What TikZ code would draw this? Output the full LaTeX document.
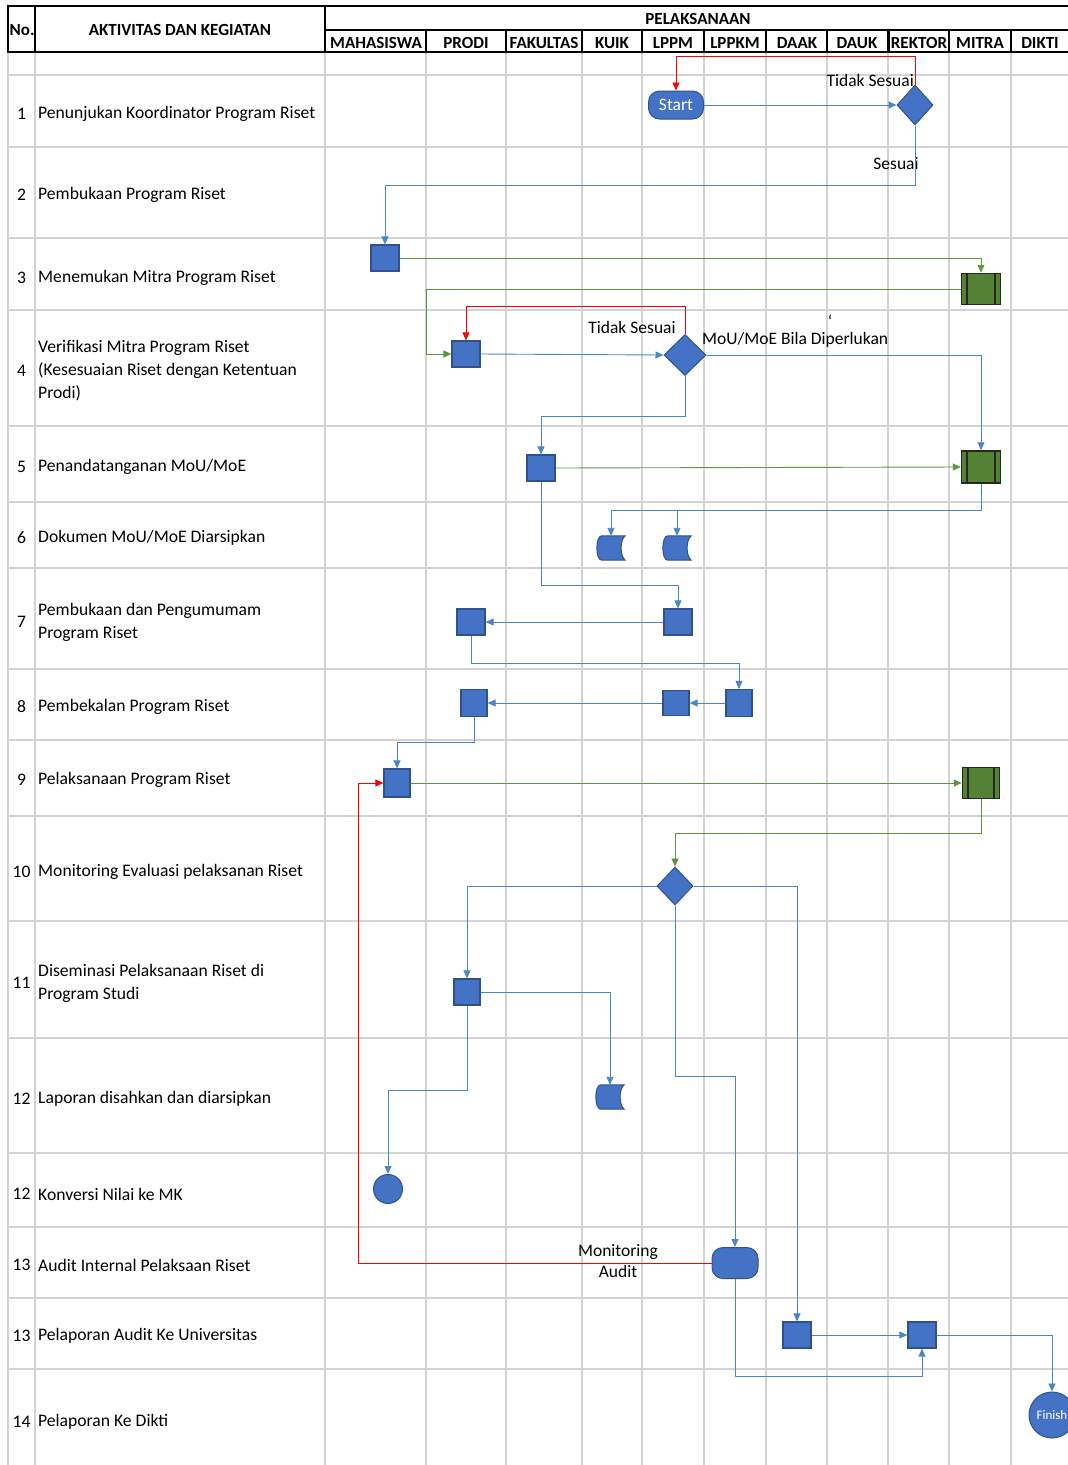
\documentclass[tikz,border=0pt]{standalone}
\usepackage{fontspec}
\setmainfont{Carlito}
\usetikzlibrary{arrows.meta,shapes.geometric,calc}
\definecolor{boxblue}{HTML}{4472C4}
\definecolor{boxedge}{HTML}{2F528F}
\definecolor{lnblue}{HTML}{4A86C8}
\definecolor{lngreen}{HTML}{5E9640}
\definecolor{mgreen}{HTML}{548235}
\definecolor{gridgrey}{HTML}{D3D3D3}
\begin{document}
\begin{tikzpicture}[x=1pt,y=-1pt,
  gridthin/.style={draw=gridgrey,line width=1.6pt},
  gridthick/.style={draw=gridgrey,line width=2.8pt},
  hdr/.style={draw=black,line width=2.2pt},
  hdrtxt/.style={font=\fontsize{17}{20}\selectfont\bfseries,inner sep=0},
  rowtxt/.style={anchor=west,align=left,inner sep=0,font=\fontsize{17.6}{23}\selectfont},
  numtxt/.style={inner sep=0,font=\fontsize{17.6}{23}\selectfont},
  lbl/.style={inner sep=0,align=center,font=\fontsize{17.5}{21}\selectfont},
  box/.style={rectangle,fill=boxblue,draw=boxedge,line width=1.2pt,inner sep=0,minimum width=28pt,minimum height=26pt},
  dec/.style={diamond,fill=boxblue,draw=boxedge,line width=1pt,inner sep=0,minimum width=36pt,minimum height=40pt},
  mitrabox/.style={rectangle,fill=mgreen,draw=black!85,line width=1.5pt,inner sep=0,minimum width=39pt,minimum height=31pt,
    path picture={
      \draw[black!85,line width=1.3pt] ([xshift=5.5pt]path picture bounding box.north west) -- ([xshift=5.5pt]path picture bounding box.south west);
      \draw[black!85,line width=1.3pt] ([xshift=-5.5pt]path picture bounding box.north east) -- ([xshift=-5.5pt]path picture bounding box.south east);}},
  term/.style={rectangle,rounded corners=11pt,fill=boxblue,draw=boxedge,line width=1pt,inner sep=0,text=white},
  endcirc/.style={circle,fill=boxblue,draw=boxedge,line width=1pt,inner sep=0,text=white},
  bl/.style={color=lnblue,line width=0.9pt,-{Triangle[length=8pt,width=7pt]}},
  gr/.style={color=lngreen,line width=0.9pt,-{Triangle[length=8pt,width=7pt]}},
  rd/.style={color=red,line width=0.9pt,-{Triangle[length=8pt,width=7pt]}}
]
\useasboundingbox (0,0) rectangle (1068,1465);
\fill[white] (0,0) rectangle (1068,1465);

% ---------- body grid ----------
\foreach \y in {147,238,502,740,816,921,1038,1153,1227,1369}
  \draw[gridthin] (8,\y) -- (1068,\y);
\foreach \y in {75,310,426,568,669,1298}
  \draw[gridthick] (8,\y) -- (1068,\y);
\foreach \x in {426,506,582,642,704,766,827,949,1011}
  \draw[gridthin] (\x,52) -- (\x,1465);
\foreach \x in {8,35,325,888}
  \draw[gridthick] (\x,52) -- (\x,1465);

% ---------- header ----------
\draw[hdr] (6.9,6) -- (1068,6);
\draw[hdr] (8,6) -- (8,52);
\draw[hdr] (35,6) -- (35,52);
\draw[hdr] (325,6) -- (325,52);
\draw[hdr,line width=2pt] (325,30) -- (1068,30);
\foreach \x in {426,506,582,642,704,766,827,949,1011}
  \draw[hdr,line width=2pt] (\x,30) -- (\x,52);
\draw[hdr,line width=3pt] (888,30) -- (888,52);
\draw[hdr] (6.9,52) -- (1068,52);

\node[hdrtxt,anchor=west] (hno) at (9.5,30) {No.};
\node[hdrtxt] (hakt) at (180,30) {AKTIVITAS DAN KEGIATAN};
\node[hdrtxt] (hpel) at (698,19) {PELAKSANAAN};
\node[hdrtxt] (hmhs) at (376,43) {MAHASISWA};
\node[hdrtxt] (hpro) at (466,43) {PRODI};
\node[hdrtxt] (hfak) at (544,43) {FAKULTAS};
\node[hdrtxt] (hkui) at (612,43) {KUIK};
\node[hdrtxt] (hlppm) at (673,43) {LPPM};
\node[hdrtxt] (hlppkm) at (735,43) {LPPKM};
\node[hdrtxt] (hdaak) at (797,43) {DAAK};
\node[hdrtxt] (hdauk) at (857,43) {DAUK};
\node[hdrtxt] (hrek) at (919,43) {REKTOR};
\node[hdrtxt] (hmit) at (980,43) {MITRA};
\node[hdrtxt] (hdik) at (1040,43) {DIKTI};

% ---------- row texts ----------
\node[numtxt] (n1) at (21.5,114) {1};
\node[rowtxt] (t1) at (38,114) {Penunjukan Koordinator Program Riset};
\node[numtxt] (n2) at (21.5,195) {2};
\node[rowtxt] (t2) at (38,195) {Pembukaan Program Riset};
\node[numtxt] (n3) at (21.5,278) {3};
\node[rowtxt] (t3) at (38,278) {Menemukan Mitra Program Riset};
\node[numtxt] (n4) at (21.5,371) {4};
\node[rowtxt] (t4) at (38,371) {Verifikasi Mitra Program Riset\\(Kesesuaian Riset dengan Ketentuan\\Prodi)};
\node[numtxt] (n5) at (21.5,467) {5};
\node[rowtxt] (t5) at (38,467) {Penandatanganan MoU/MoE};
\node[numtxt] (n6) at (21.5,538) {6};
\node[rowtxt] (t6) at (38,538) {Dokumen MoU/MoE Diarsipkan};
\node[numtxt] (n7) at (21.5,622) {7};
\node[rowtxt] (t7) at (38,622) {Pembukaan dan Pengumumam\\Program Riset};
\node[numtxt] (n8) at (21.5,707) {8};
\node[rowtxt] (t8) at (38,707) {Pembekalan Program Riset};
\node[numtxt] (n9) at (21.5,780) {9};
\node[rowtxt] (t9) at (38,780) {Pelaksanaan Program Riset};
\node[numtxt] (n10) at (21.5,872) {10};
\node[rowtxt] (t10) at (38,872) {Monitoring Evaluasi pelaksanan Riset};
\node[numtxt] (n11) at (21.5,983) {11};
\node[rowtxt] (t11) at (38,983) {Diseminasi Pelaksanaan Riset di\\Program Studi};
\node[numtxt] (n12) at (21.5,1099) {12};
\node[rowtxt] (t12) at (38,1099) {Laporan disahkan dan diarsipkan};
\node[numtxt] (n12b) at (21.5,1194) {12};
\node[rowtxt] (t12b) at (38,1194) {Konversi Nilai ke MK};
\node[numtxt] (n13) at (21.5,1265) {13};
\node[rowtxt] (t13) at (38,1265) {Audit Internal Pelaksaan Riset};
\node[numtxt] (n13b) at (21.5,1336) {13};
\node[rowtxt] (t13b) at (38,1336) {Pelaporan Audit Ke Universitas};
\node[numtxt] (n14) at (21.5,1422) {14};
\node[rowtxt] (t14) at (38,1422) {Pelaporan Ke Dikti};

% ---------- flow nodes ----------
\node[term,minimum width=55pt,minimum height=28pt,font=\fontsize{17.5}{20}\selectfont] (start) at (676,105) {Start};
\node[dec] (d1) at (915,105) {};
\node[box] (b3) at (385,258) {};
\node[mitrabox] (m3) at (981,289) {};
\node[box] (b4) at (466,354) {};
\node[dec,minimum width=42pt,minimum height=41pt] (d4) at (685,355) {};
\node[box] (b5) at (541,468) {};
\node[mitrabox,minimum height=32pt] (m5) at (981,467) {};
\newcommand{\storedata}[3]{%
  \node[inner sep=0,minimum width=28pt,minimum height=24pt] (#1) at (#2,#3) {};
  \filldraw[fill=boxblue,draw=boxedge,line width=1pt]
    ($(#1.north west)+(5,0)$) -- (#1.north east)
    .. controls ($(#1.north east)+(-5.5,4)$) and ($(#1.south east)+(-5.5,-4)$) .. (#1.south east)
    -- ($(#1.south west)+(5,0)$)
    .. controls ($(#1.south west)+(-1.6,0)$) and ($(#1.north west)+(-1.6,0)$) .. cycle;}
\storedata{c6a}{611}{548}
\storedata{c6b}{677}{548}
\node[box] (b7b) at (678,622) {};
\node[box] (b7a) at (471,622) {};
\node[box,minimum width=26pt,minimum height=27pt] (b8c) at (739,703) {};
\node[box,minimum width=26pt,minimum height=25pt] (b8b) at (676,703) {};
\node[box,minimum width=26pt,minimum height=27pt] (b8a) at (474,703) {};
\node[box,minimum width=26pt,minimum height=28pt] (b9) at (397,783) {};
\node[mitrabox,minimum width=37pt] (m9) at (981,783) {};
\node[dec,minimum height=38pt] (d10) at (675,886) {};
\node[box,minimum width=26pt] (b11) at (467,992) {};
\storedata{c12}{610}{1097}
\node[endcirc,minimum size=29pt] (e12) at (388,1189) {};
\node[term,minimum width=46pt,minimum height=31pt] (au) at (735,1263) {};
\node[box] (b13a) at (797,1335) {};
\node[box] (b13b) at (922,1335) {};
\node[endcirc,minimum size=46pt,font=\fontsize{13}{15}\selectfont] (fin) at (1052,1415) {Finish};

% ---------- labels ----------
\node[lbl,anchor=east] (ltidak1) at (914,80) {Tidak Sesuai};
\node[lbl] (lsesuai) at (896,164) {Sesuai};
\node[lbl] (ltidak2) at (632,327) {Tidak Sesuai};
\node[lbl,anchor=west] (lmou) at (702,340) {MoU/MoE Bila Diperlukan};
\node[lbl] (ltick) at (830,321) {`};
\node[lbl] (lmon) at (618,1261) {Monitoring\\Audit};

% ---------- connectors ----------
\draw[bl] (start.east) -- (d1.west);
\draw[rd] (d1.north) -- ++(0,-28) -| (start.north);
\draw[bl] (d1.south) -- (d1.south |- 0,185) -| (b3.north);
\draw[gr] (b3.east) -| (m3.north);
\draw[gr] (m3.west) -- (m3.west -| 426,0) |- (b4.west);
\draw[rd] (d4.north) -- (d4.north |- 0,306) -| (b4.north);
\draw[bl] (b4.east) -- (d4.west);
\draw[bl] (d4.east) -| (m5.north);
\draw[bl] (d4.south) -- (d4.south |- 0,416) -| (b5.north);
\draw[gr] (b5.east) -- (m5.west);
\draw[bl] (m5.south) -- (m5.south |- 0,510) -| (c6a.north);
\draw[bl] (m5.south |- 0,510) -| (c6b.north);
\draw[bl] (b5.south) -- (b5.south |- 0,585) -| (b7b.north);
\draw[bl] (b7b.west) -- (b7a.east);
\draw[bl] (b7a.south) -- (b7a.south |- 0,663) -| (b8c.north);
\draw[bl] (b8c.west) -- (b8b.east);
\draw[bl] (b8b.west) -- (b8a.east);
\draw[bl] (b8a.south) -- (b8a.south |- 0,742) -| (b9.north);
\draw[gr] (b9.east) -- (m9.west);
\draw[gr] (m9.south) -- (m9.south |- 0,833) -| (d10.north);
\draw[bl] (d10.west) -| (b11.north);
\draw[bl] (d10.east) -| (b13a.north);
\draw[bl] (d10.south) -- (d10.south |- 0,1076) -| (au.north);
\draw[bl] (b11.east) -| (c12.north);
\draw[bl] (b11.south) -- (b11.south |- 0,1090) -| (e12.north);
\draw[rd] (au.west) -- (au.west -| 358,0) |- (b9.west);
\draw[bl] (au.south) -- (au.south |- 0,1376) -| (b13b.south);
\draw[bl] (b13a.east) -- (b13b.west);
\draw[bl] (b13b.east) -| (fin.north);
\end{tikzpicture}
\end{document}
